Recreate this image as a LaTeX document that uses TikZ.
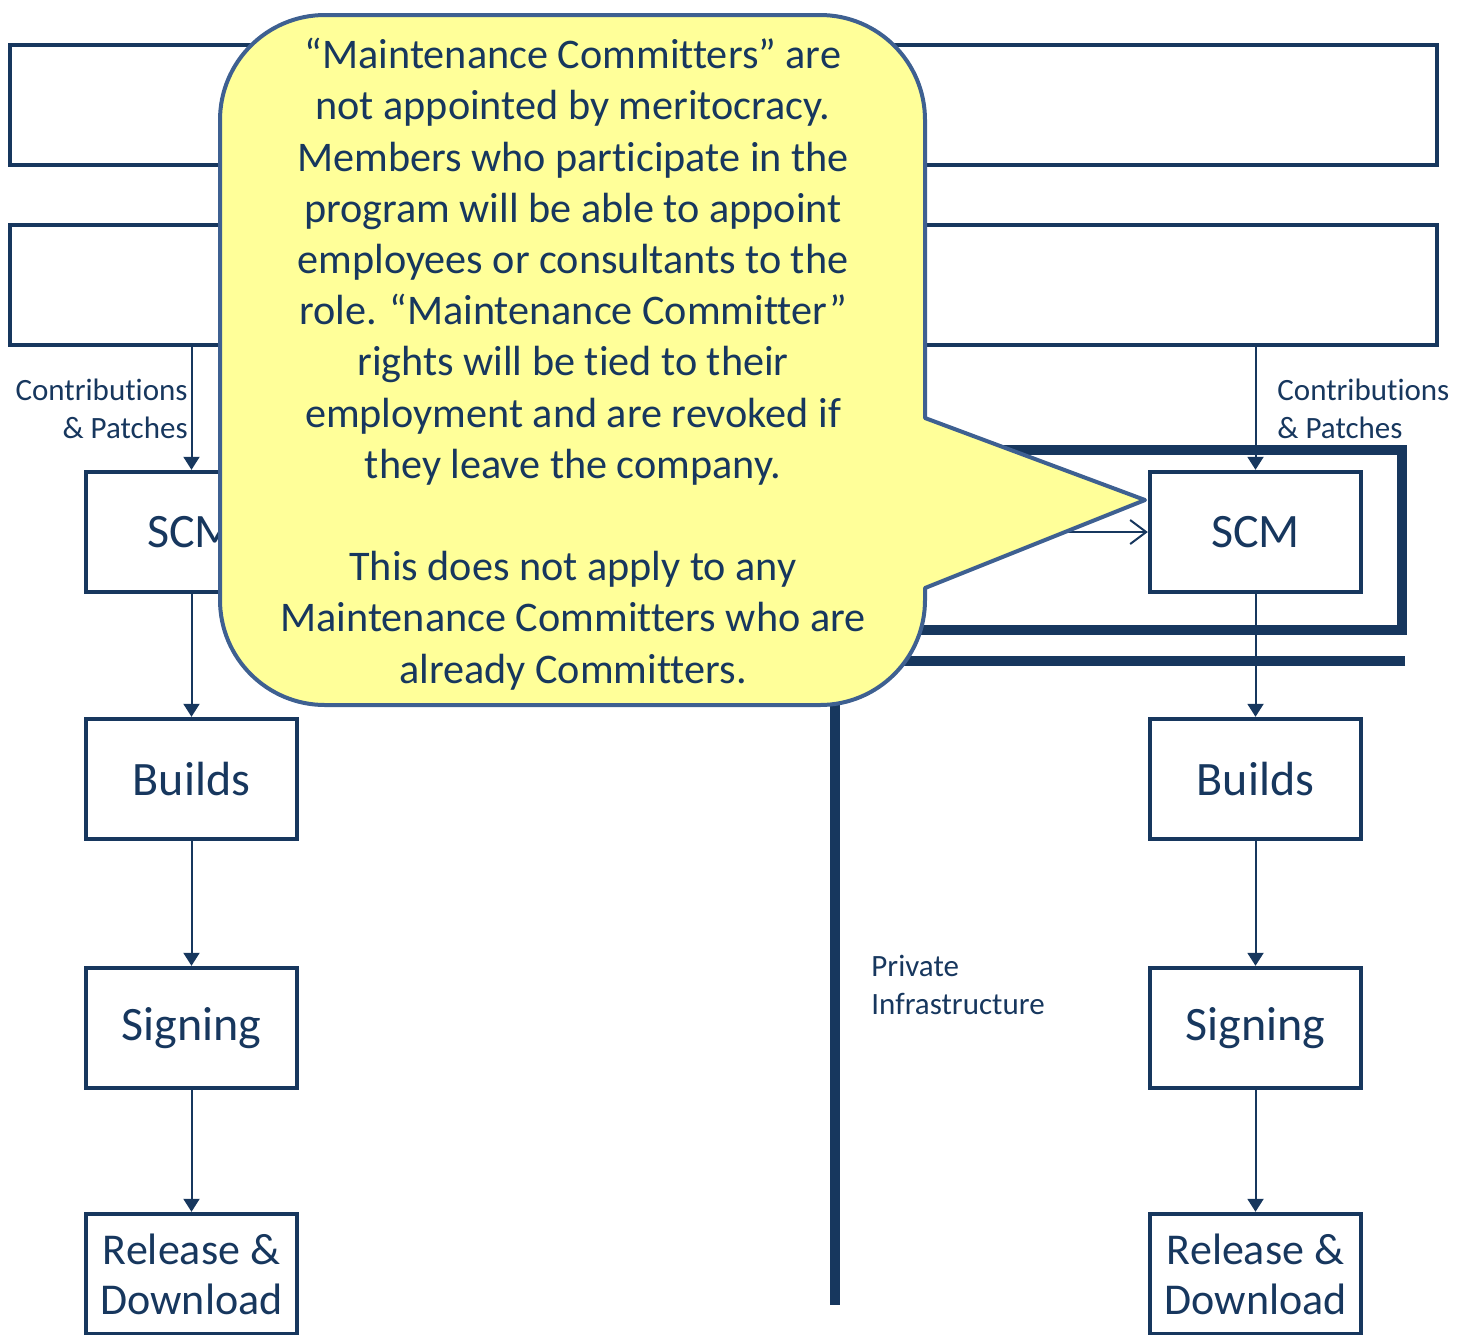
\documentclass[tikz,border=0pt]{standalone}
\usepackage{fontspec}
\setmainfont{Carlito}[Ligatures=NoCommon,RawFeature={-liga;-clig}]
\usetikzlibrary{arrows.meta}
\definecolor{navy}{RGB}{23,55,94}
\definecolor{calloutfill}{RGB}{255,255,153}
\definecolor{calloutline}{RGB}{62,96,145}
\begin{document}
\begin{tikzpicture}[x=0.5pt,y=-0.5pt,
  wide/.style={draw=navy,line width=2pt,minimum width=713.5pt,minimum height=60pt,inner sep=0},
  stage/.style={draw=navy,line width=2.2pt,minimum width=105.5pt,minimum height=60pt,inner sep=0,text=navy,font=\fontsize{24}{29}\selectfont,align=center},
  flow/.style={draw=navy,line width=1pt,-{Triangle[length=6.5pt,width=8pt]}},
  lbl/.style={text=navy,font=\fontsize{15.5}{19}\selectfont,inner sep=0},
  heavy/.style={draw=navy,line width=5pt},
  callout/.style={fill=calloutfill,draw=calloutline,line width=2pt,line join=round},
]
\useasboundingbox (0,0) rectangle (1460,1334);
% wide boxes
\node[wide] (top1) at (723.5,105) {};
\node[wide] (top2) at (723.5,285) {};
% left column
\node[stage] (lscm) at (191.5,532) {SCM};
\node[stage] (lbuild) at (191.5,779) {Builds};
\node[stage] (lsign) at (191.5,1028) {Signing};
\node[stage,font=\fontsize{22}{25}\selectfont] (lrel) at (191.5,1274) {Release \&\\Download};
% right column
\node[stage] (rscm) at (1255.5,532) {SCM};
\node[stage] (rbuild) at (1255.5,779) {Builds};
\node[stage] (rsign) at (1255.5,1028) {Signing};
\node[stage,font=\fontsize{22}{25}\selectfont] (rrel) at (1255.5,1274) {Release \&\\Download};
% connectors
\draw[flow] (top2.south -| lscm.north) -- (lscm.north);
\draw[flow] (lscm) -- (lbuild);
\draw[flow] (lbuild) -- (lsign);
\draw[flow] (lsign) -- (lrel);
\draw[flow] (top2.south -| rscm.north) -- (rscm.north);
\draw[flow] (rscm) -- (rbuild);
\draw[flow] (rbuild) -- (rsign);
\draw[flow] (rsign) -- (rrel);
\coordinate (feed) at (960,532);
\draw[navy,line width=1pt,-{Straight Barb[length=8pt,width=12pt]}] (feed) -- (rscm.west);
% labels
\node[lbl,anchor=east,align=right] (lcontrib) at (188,409) {Contributions\\\& Patches};
\node[lbl,anchor=west,align=left] (rcontrib) at (1277,409) {Contributions\\\& Patches};
\node[lbl,anchor=west,align=left] (priv) at (871,985) {Private\\Infrastructure};
% heavy lines
\draw[heavy] (980,450) -- (1402,450) -- (1402,630) -- (900,630);
\draw[heavy] (1405,661) -- (835,661) -- (835,1305);
% callout
\draw[callout] (325,15) -- (820,15) .. controls (878,15) and (925,62) .. (925,120)
  -- (925,418) -- (1145,500) -- (925,588) -- (925,600)
  .. controls (925,658) and (878,705) .. (820,705) -- (325,705)
  .. controls (267,705) and (220,658) .. (220,600) -- (220,120)
  .. controls (220,62) and (267,15) .. (325,15) -- cycle;
\node[text=navy,align=center,font=\fontsize{21.1}{25.6}\selectfont,inner sep=0] (note) at (573,364)
 {“Maintenance Committers” are\\
  not appointed by meritocracy.\\
  Members who participate in the\\
  program will be able to appoint\\
  employees or consultants to the\\
  role. “Maintenance Committer”\\
  rights will be tied to their\\
  employment and are revoked if\\
  they leave the company.\\[25.6pt]
  This does not apply to any\\
  Maintenance Committers who are\\
  already Committers.};
\end{tikzpicture}
\end{document}
